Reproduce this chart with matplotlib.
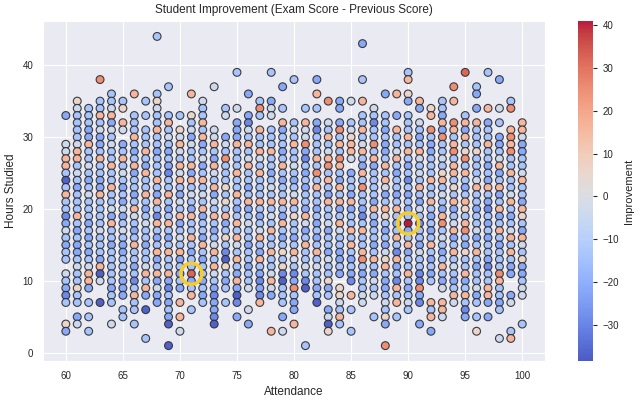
import matplotlib
matplotlib.use('Agg')
import matplotlib.pyplot as plt
import numpy as np
import seaborn as sns

# Attendance values (one column of points per value)
attendance = list(range(60, 101))

# Hours studied present in each column, top to bottom ("a-b" = every hour from a down to b)
hours_spec = [
    "33,29-13,11-7,4,3", "35-7,5,4", "34-9,7,5,3", "38,35-10,7", "36-7,4",
    "35,34,32,31,29-8,6,5", "36,33-6,4", "35,33,31-8,6,2", "44,36-7", "37,33-4,1",
    "33,31-9,7,5,3", "36,33-8,6", "35-7", "37,31-4", "34,33,30-9,7",
    "39,34,32-7,5", "36,33-9,6,4", "35,34,33,31-7", "39,35,34,33,31-8,3", "37,34,32-7,5,3",
    "38,32-6,4", "34,32-9,1", "38,36,34,32-7", "35,32-8,6,5,4,3", "35,34,32-11,9-4",
    "35,32-27,25-10,8,6,3", "43,38,35,33-7", "34,33-8,5", "36,33-4,1", "36,33,31-7,5",
    "39,38,36,35,33-6", "35,34,32-7,4", "34,33,31-10,7,6,5,3", "35-9,7,6,5", "37,35,32-7",
    "39,33-5", "37,36,34,32-7,5,3", "39,34,32-7,5", "38,34,32,30-6,2", "35,34,31-11,8,7,3,2",
    "32-8,4",
]

# Improvement level of each point, same order as hours_spec
improve_codes = [
    "m" "ggpplBlpllbmglmll" "glmbl" "q" "m",
    "qgllllgpplglmlllplmlmmlgllqll" "m" "g",
    "lllmmpllglmlglllmlmlmlgppm" "l" "l" "l",
    "o" "llplgmmlpllmmpllllglllmpBg" "B",
    "llgpmglgllpllpllgmpllmlllllmll" "g",
    "l" "q" "p" "g" "mlplglmlmgmlglmmlllmmm" "l" "l",
    "p" "lllplmlpmllmlpglmlpllmlblpll" "l",
    "l" "l" "lllplmpllplmlgllmllgplpm" "B" "l",
    "l" "lqgllpllmlllplmplbplmlpmlpmgmm",
    "l" "lplglmlmbllplmlplmlpllpmblmlmB" "B",
    "l" "qgpglpgplmglpmlglpmlmlm" "p" "p" "g",
    "p" "qlgmgllpmplglmpllplmllrmlp" "l",
    "gllplpmlgmlplglpmllmplmllmlml",
    "g" "ggplmpglpmglplmlgplpglmbmmbB",
    "l" "g" "mglolllqlqlpmlqlbBqlml" "l",
    "l" "g" "mmmplllpllplmlplpglplmpmBb" "m",
    "m" "mbglplgpllmlpmlgllmllmllg" "g" "m",
    "l" "o" "l" "pllpglplllplmlgplmplmbmbp",
    "l" "m" "g" "g" "lllpllmlglplglpllpllgpgm" "p",
    "m" "l" "pmllmlplmllplmplmlqlqbBlll" "m" "g",
    "l" "lglpllglmlgplqllmlpglbmolmm" "p",
    "l" "pggomblmlmllmpgmlpllglbB" "l",
    "m" "p" "l" "mblllplolpllmlmlmlplgllmlB",
    "o" "glplgpolplmpllgmllmgllqml" "m" "g" "B" "q",
    "m" "m" "molploplmplpmlpgllmmlm" "qqglpl",
    "g" "lgqppg" "mllmpmllplplmlmb" "p" "l" "l",
    "m" "l" "p" "llplgplmplollmblpllpolmllgg",
    "g" "lbllolpmllllmplmllmlplmglg" "l",
    "m" "llmlmmlplpgmlpqlmlmgqplmmlglqm" "o",
    "p" "m" "pllgplmllmlplmlplbpmlbplp" "l",
    "l" "p" "q" "m" "lllplplmlblmlmlRmlpmllplmlgl",
    "p" "m" "glmlpglglplmglbllmgllbbomb" "m",
    "q" "p" "olmmlllpllplmlmlplmlml" "p" "l" "p" "m",
    "llmpmollglqplglmpolglmlplmg" "p" "p" "g",
    "o" "p" "oplpolpplqlpmlgpmlplglmlpg",
    "r" "lpmplqolplmlpqlpolmqllpmlplbm",
    "l" "m" "m" "plllqlllgpllmllgmlplmllgml" "l" "q",
    "l" "p" "mllpllmlmplmblmlmllmbllppm" "m",
    "m" "g" "l" "mmlgpmlpmlpmlplmlllopllml" "g",
    "l" "o" "popollpllgplmlgplplmm" "m" "g" "l" "p",
    "ppgmmllgpllmpqlmpglqmmlgg" "l",
]

# Improvement value for each level code
code_values = {'B': -37, 'b': -29, 'm': -22, 'l': -14, 'g': -4,
               'q': 6, 'p': 16, 'o': 25, 'r': 32, 'R': 41}


def parse_hours(spec):
    out = []
    for part in spec.split(','):
        if '-' in part:
            hi, lo = map(int, part.split('-'))
            out.extend(range(hi, lo - 1, -1))
        else:
            out.append(int(part))
    return out


xs, ys, cs = [], [], []
for att, spec, codes in zip(attendance, hours_spec, improve_codes):
    hrs = parse_hours(spec)
    assert len(hrs) == len(codes), (att, len(hrs), len(codes))
    xs += [att] * len(hrs)
    ys += hrs
    cs += [code_values[c] for c in codes]

xs = np.array(xs)
ys = np.array(ys)
cs = np.array(cs)

sns.set_style('darkgrid')
plt.rcParams['font.family'] = ['Liberation Sans', 'DejaVu Sans']

fig = plt.figure(figsize=(6.42, 4.03), dpi=100)
ax = fig.add_axes([0.067, 0.104, 0.782, 0.844])
cax = fig.add_axes([0.9, 0.104, 0.0243, 0.844])

sc = ax.scatter(xs, ys, c=cs, cmap='coolwarm', vmin=-38.5, vmax=41,
                s=32, edgecolors='#2a2a2a', linewidths=0.8, alpha=0.9)

# Ring the two biggest improvements
top = np.argsort(cs)[-2:]
ax.scatter(xs[top], ys[top], s=230, facecolors='none',
           edgecolors='#f5cd2e', linewidths=2.5)

ax.set_title("Student Improvement (Exam Score - Previous Score)", fontsize=8.5)
ax.set_xlabel("Attendance", fontsize=8.5)
ax.set_ylabel("Hours Studied", fontsize=8.5)
ax.tick_params(labelsize=7)
ax.set_xticks(range(60, 101, 5))
ax.set_yticks(range(0, 41, 10))

cb = fig.colorbar(sc, cax=cax)
cb.outline.set_visible(False)
cb.ax.tick_params(labelsize=7, length=3, width=0.8)
cb.set_label("Improvement", fontsize=8)

fig.savefig('out.png', dpi=100)
